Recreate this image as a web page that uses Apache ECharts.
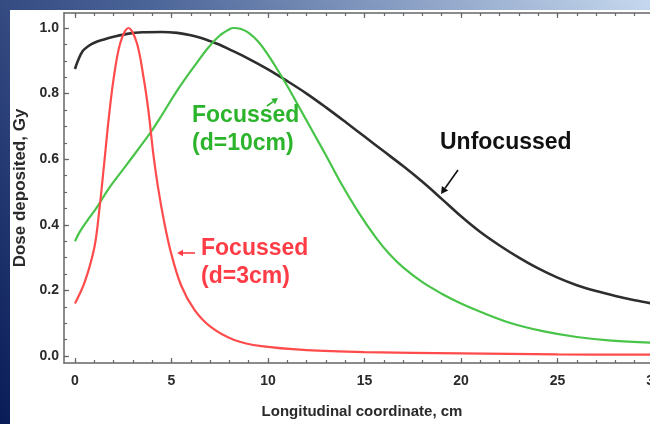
<!DOCTYPE html>
<html>
<head>
<meta charset="utf-8">
<script src="https://cdn.jsdelivr.net/npm/echarts@6/dist/echarts.min.js"></script>
<style>html,body{margin:0;padding:0;background:#fff;}#c{width:650px;height:424px;}</style>
</head>
<body>
<div id="c"></div>
<script>
// ---- data ----
var unfocX = [0, 0.15, 0.4, 0.7, 1, 1.5, 2, 2.7, 3.5, 4.5, 5.3, 6, 6.5, 7, 7.5, 8, 9, 10, 11, 12, 13, 14, 15, 16, 17, 18, 19, 20, 21, 22, 23, 24, 25, 26, 27, 28, 29, 30];
var unfocY = [0.875, 0.9, 0.93, 0.945, 0.955, 0.965, 0.973, 0.982, 0.987, 0.988, 0.985, 0.978, 0.97, 0.96, 0.949, 0.935, 0.906, 0.874, 0.838, 0.8, 0.758, 0.714, 0.669, 0.624, 0.579, 0.531, 0.479, 0.426, 0.378, 0.337, 0.3, 0.267, 0.239, 0.216, 0.198, 0.183, 0.17, 0.159];

var foc10X = [0, 0.26, 0.6, 1.15, 1.8, 2.7, 3.9, 4.4, 5.3, 6.2, 6.9, 7.5, 8.0, 8.2, 8.6, 9.0, 9.5, 10.0, 10.5, 11.0, 11.6, 12.3, 13.0, 13.8, 14.7, 15.6, 16.3, 17, 18, 19, 20, 21, 22.6, 24.3, 26, 27.8, 30];
var foc10Y = [0.35, 0.38, 0.41, 0.455, 0.515, 0.585, 0.68, 0.725, 0.81, 0.885, 0.94, 0.977, 0.996, 1.0, 0.997, 0.985, 0.958, 0.918, 0.872, 0.823, 0.76, 0.686, 0.612, 0.525, 0.437, 0.36, 0.31, 0.27, 0.225, 0.19, 0.16, 0.135, 0.1, 0.075, 0.058, 0.047, 0.04];

var foc3X = [0, 0.5, 1.0, 1.25, 1.5, 1.75, 2.0, 2.35, 2.77, 3.2, 3.55, 3.8, 4.07, 4.3, 4.6, 4.96, 5.5, 6.2, 7.05, 8.25, 9.66, 12, 15, 20, 25, 30];
var foc3Y = [0.16, 0.225, 0.33, 0.44, 0.58, 0.725, 0.845, 0.955, 1.0, 0.955, 0.85, 0.75, 0.61, 0.515, 0.415, 0.318, 0.215, 0.14, 0.088, 0.049, 0.03, 0.018, 0.012, 0.008, 0.005, 0.004];

var xMajorTicks = [0, 5, 10, 15, 20, 25, 30];
var xMinorTicks = [];
for (var i = 0; i <= 30; i++) xMinorTicks.push(i);
var yMajorTicks = [0, 0.2, 0.4, 0.6, 0.8, 1.0];
var yMinorTicks = [0, 0.05, 0.1, 0.15, 0.2, 0.25, 0.3, 0.35, 0.4, 0.45, 0.5, 0.55, 0.6, 0.65, 0.7, 0.75, 0.8, 0.85, 0.9, 0.95, 1.0];

var seriesNames = ['Unfocussed', 'Focussed (d=10cm)', 'Focussed (d=3cm)'];

function pairs(xs, ys) { return xs.map(function (x, k) { return [x, ys[k]]; }); }

var FONT = "'Liberation Sans Narrow', 'Liberation Sans', Arial, sans-serif";
var AX = '#666';
var X_MIN = -0.57, X_MAX = 30.31, Y_MIN = -0.0213, Y_MAX = 1.0457;

function xAx(pos, major, withLabel) {
  var o = {
    type: 'value', position: pos, min: X_MIN, max: X_MAX, offset: 0,
    axisLine: { show: major, onZero: false, lineStyle: { color: AX, width: 1.5 } },
    axisTick: { show: true, inside: true, length: major ? 5 : 3, customValues: major ? xMajorTicks : xMinorTicks, lineStyle: { color: AX, width: 1.2 } },
    axisLabel: { show: false },
    splitLine: { show: false }
  };
  if (withLabel) {
    o.axisLabel = { show: true, customValues: xMajorTicks, margin: 11, color: '#2a2a2a', fontFamily: FONT, fontWeight: 'bold', fontSize: 14 };
    o.name = 'Longitudinal coordinate, cm';
    o.nameLocation = 'middle';
    o.nameGap = 41;
    o.nameTextStyle = { color: '#2a2a2a', fontFamily: FONT, fontWeight: 'bold', fontSize: 15 };
  }
  return o;
}
function yAx(major, withLabel) {
  var o = {
    type: 'value', position: 'left', min: Y_MIN, max: Y_MAX, offset: 0,
    axisLine: { show: major, onZero: false, lineStyle: { color: AX, width: 1.5 } },
    axisTick: { show: true, inside: true, length: major ? 5 : 3, customValues: major ? yMajorTicks : yMinorTicks, lineStyle: { color: AX, width: 1.2 } },
    axisLabel: { show: false },
    splitLine: { show: false }
  };
  if (withLabel) {
    o.axisLabel = { show: true, customValues: yMajorTicks, margin: 5, color: '#2a2a2a', fontFamily: FONT, fontWeight: 'bold', fontSize: 14,
      formatter: function (v) { return v.toFixed(1); } };
    o.name = 'Dose deposited, Gy';
    o.nameLocation = 'middle';
    o.nameRotate = 90;
    o.nameGap = 35;
    o.nameTextStyle = { color: '#2a2a2a', fontFamily: FONT, fontWeight: 'bold', fontSize: 17 };
  }
  return o;
}

function arrow(x1, y1, x2, y2, color, head) {
  var ang = Math.atan2(y2 - y1, x2 - x1);
  var h = head || 6, w = h * 0.55;
  var bx = x2 - h * Math.cos(ang), by = y2 - h * Math.sin(ang);
  var px = -Math.sin(ang) * w, py = Math.cos(ang) * w;
  return [
    { type: 'line', z: 50, shape: { x1: x1, y1: y1, x2: bx, y2: by }, style: { stroke: color, lineWidth: 1.6 } },
    { type: 'polygon', z: 50, shape: { points: [[x2, y2], [bx + px, by + py], [bx - px, by - py]] }, style: { fill: color } }
  ];
}

var chart = echarts.init(document.getElementById('c'), null, { renderer: 'canvas' });
var GREEN_T = '#2cb42c', RED_T = '#ff3c46';
var ANN_FONT = "bold 23px 'Liberation Sans', Arial, sans-serif";
var graphics = [
  { type: 'rect', z: -20, shape: { x: 0, y: 0, width: 650, height: 424 },
    style: { fill: new echarts.graphic.LinearGradient(0, 1, 1, 0, [
      { offset: 0, color: '#0a1c58' }, { offset: 0.45, color: '#4a6397' }, { offset: 1, color: '#c6d8ee' }]) } },
  { type: 'rect', z: -19, shape: { x: 10, y: 10, width: 640, height: 414 }, style: { fill: '#ffffff' } },
  { type: 'text', z: 60, left: 192, top: 102, style: { text: 'Focussed\n(d=10cm)', fill: GREEN_T, font: ANN_FONT, lineHeight: 28 } },
  { type: 'text', z: 60, left: 201, top: 235, style: { text: 'Focussed\n(d=3cm)', fill: RED_T, font: ANN_FONT, lineHeight: 28 } },
  { type: 'text', z: 60, left: 440, top: 129, style: { text: 'Unfocussed', fill: '#111111', font: ANN_FONT, lineHeight: 28 } }
];
graphics = graphics.concat(arrow(458, 170, 441, 194, '#111111', 7));
graphics = graphics.concat(arrow(195, 253, 177, 253, RED_T, 6));
graphics = graphics.concat(arrow(267, 106, 278, 98, GREEN_T, 6));

chart.setOption({
  animation: false,
  grid: { left: 64, top: 13, right: -10, bottom: 61, containLabel: false, outerBoundsMode: 'none' },
  graphic: graphics,
  xAxis: [xAx('bottom', true, true), xAx('bottom', false, false), xAx('top', true, false), xAx('top', false, false)],
  yAxis: [yAx(true, true), yAx(false, false)],
  series: [
    { name: seriesNames[0], type: 'line', data: pairs(unfocX, unfocY), smooth: 0.35, showSymbol: false, z: 3,
      lineStyle: { color: '#2e2e2e', width: 2.6 } },
    { name: seriesNames[1], type: 'line', data: pairs(foc10X, foc10Y), smooth: 0.35, showSymbol: false, z: 4,
      lineStyle: { color: '#48c448', width: 2.2 } },
    { name: seriesNames[2], type: 'line', data: pairs(foc3X, foc3Y), smooth: 0.35, showSymbol: false, z: 5,
      lineStyle: { color: '#ff4b4b', width: 2.2 } }
  ]
});
</script>
</body>
</html>
